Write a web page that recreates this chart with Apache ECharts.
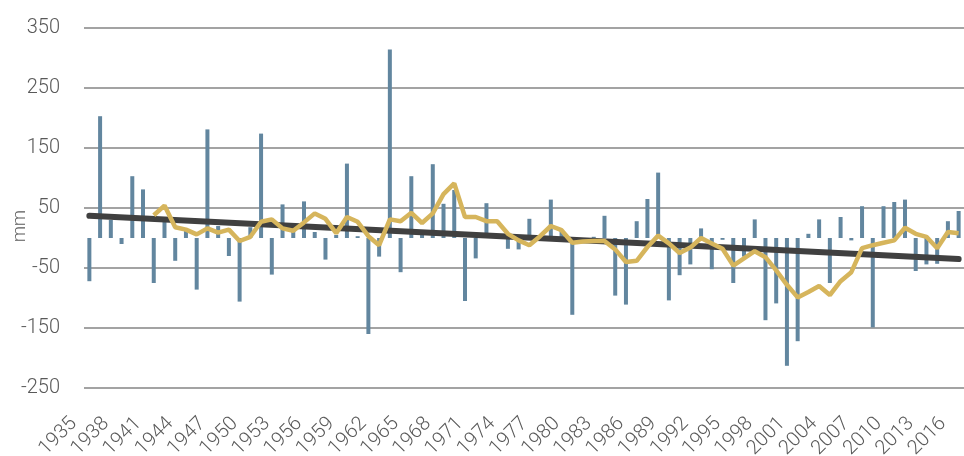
<!DOCTYPE html>
<html>
<head>
<meta charset="utf-8">
<script src="https://cdn.jsdelivr.net/npm/echarts@6/dist/echarts.min.js"></script>
<style>
html,body{margin:0;padding:0;background:#fff;}
#chart{width:964px;height:456px;}
</style>
</head>
<body>
<div id="chart"></div>
<script>
var years = ['1935','1936','1937','1938','1939','1940','1941','1942','1943','1944',
'1945','1946','1947','1948','1949','1950','1951','1952','1953','1954',
'1955','1956','1957','1958','1959','1960','1961','1962','1963','1964',
'1965','1966','1967','1968','1969','1970','1971','1972','1973','1974',
'1975','1976','1977','1978','1979','1980','1981','1982','1983','1984',
'1985','1986','1987','1988','1989','1990','1991','1992','1993','1994',
'1995','1996','1997','1998','1999','2000','2001','2002','2003','2004',
'2005','2006','2007','2008','2009','2010','2011','2012','2013','2014',
'2015','2016'];

var anomaly = [-72,203,30,-10,103,81,-75,27,-38,12,
-86,181,20,-30,-106,18,174,-61,56,12,
61,10,-36,5,124,3,-160,-31,314,-57,
103,10,123,57,80,-105,-34,58,5,-18,
-19,32,5,64,12,-128,-3,2,37,-96,
-111,28,65,109,-104,-62,-44,16,-52,-3,
-75,-31,31,-137,-109,-213,-172,7,31,-75,
35,-4,53,-149,53,60,64,-55,-44,-43,
28,45];

var movingAvg = [null,null,null,null,null,null,38,54,18,14,
6,16,9,14,-5,2,27,31,16,12,
26,41,32,8,35,27,3,-12,31,28,
42,25,41,73,91,35,35,28,28,7,
-4,-12,3,20,13,-8,-6,-5,-5,-19,
-40,-38,-15,4,-9,-25,-16,0,-9,-18,
-46,-34,-22,-32,-54,-78,-99,-90,-80,-95,
-72,-57,-17,-12,-8,-4,17,7,2,-17,
10,8];

var trendStart = 37;
var trendEnd = -35;
var yTicks = {min: -250, max: 350, interval: 100};
var yTitle = 'mm';

var trend = years.map(function(y, i){
  if (i === 0) return trendStart;
  if (i === years.length - 1) return trendEnd;
  return null;
});

var chart = echarts.init(document.getElementById('chart'));
var labelFont = "Roboto, 'Liberation Sans', sans-serif";
chart.setOption({
  animation: false,
  grid: {left: 84, right: 0, top: 28, bottom: 68, containLabel: false, outerBoundsMode: 'none'},
  graphic: [{
    type: 'text',
    x: 20,
    y: 226,
    rotation: Math.PI / 2,
    style: {
      text: yTitle,
      fill: '#595959',
      font: '300 18px ' + labelFont,
      align: 'center',
      verticalAlign: 'middle'
    }
  }],
  xAxis: {
    type: 'category',
    data: years,
    axisLine: {show: false, onZero: false},
    axisTick: {show: false},
    axisLabel: {
      interval: 2,
      rotate: 45,
      margin: 17,
      padding: [0, 22, 0, 0],
      fontSize: 20,
      fontWeight: 300,
      color: '#595959',
      fontFamily: labelFont
    },
    splitLine: {show: false}
  },
  yAxis: {
    type: 'value',
    min: yTicks.min,
    max: yTicks.max,
    interval: yTicks.interval,
    axisLine: {show: false},
    axisTick: {show: false},
    axisLabel: {
      margin: 24,
      fontSize: 20,
      fontWeight: 300,
      color: '#595959',
      fontFamily: labelFont
    },
    splitLine: {lineStyle: {color: '#a3a3a3', width: 2}}
  },
  series: [
    {
      type: 'bar',
      data: anomaly,
      barWidth: 4,
      itemStyle: {color: '#62869f'}
    },
    {
      type: 'line',
      data: trend,
      connectNulls: true,
      symbol: 'none',
      lineStyle: {color: '#404040', width: 6, cap: 'round'}
    },
    {
      type: 'line',
      data: movingAvg,
      symbol: 'none',
      lineStyle: {color: '#d6b55c', width: 4.5}
    }
  ]
});
</script>
</body>
</html>
